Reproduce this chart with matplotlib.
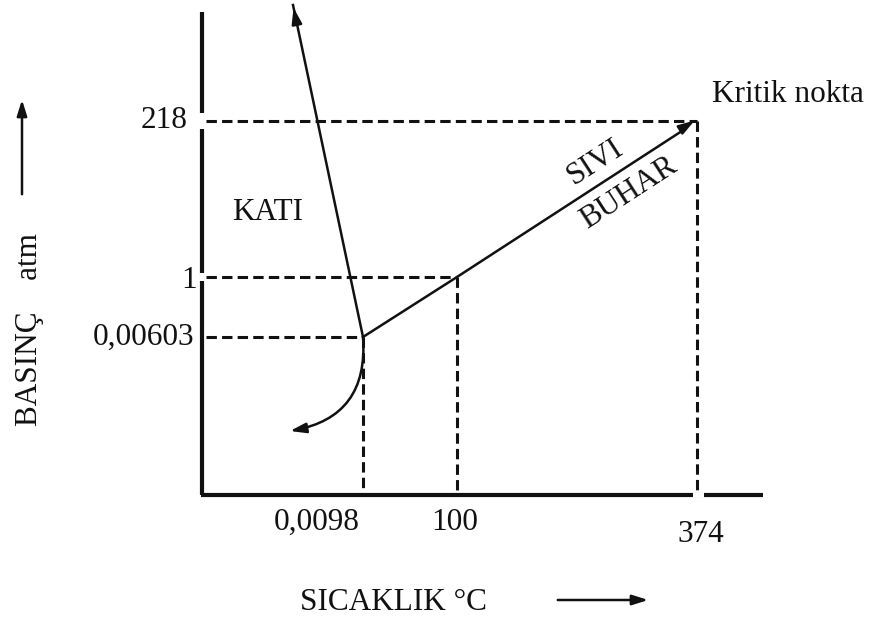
import matplotlib.pyplot as plt

plt.rcParams['font.family'] = ['Liberation Serif', 'DejaVu Serif']

# water phase diagram (schematic, not to scale)
temp_labels = ['0,0098', '100', '374']
press_labels = ['0,00603', '1', '218']
# where each value sits on the sketch
temp_pos = [161, 255, 495]
press_pos = [158, 218, 374]

# solid/liquid line: straight upper branch, curved lower branch
melt_up_x = [161, 91]
melt_up_y = [158, 490]
melt_low_tip = (88, 64)

region_labels = ['KATI', 'SIVI', 'BUHAR']

fig = plt.figure(figsize=(8.73, 6.18), dpi=100)
ax = fig.add_axes([0, 0, 1, 1])
ax.set_xlim(-202, 671)
ax.set_ylim(-123, 495)
ax.axis('off')

k = '#111111'
fs = 22.5
head = '-|>,head_length=0.95,head_width=0.3'

# axes lines, with small gaps where dashed guides meet them
ax.plot([0, 0], [0, 366], color=k, lw=3, solid_capstyle='butt')
ax.plot([0, 0], [382, 483], color=k, lw=3, solid_capstyle='butt')
ax.plot([-1.5, 561], [0, 0], color=k, lw=3, solid_capstyle='butt')
ax.plot([491, 502], [0, 0], color='white', lw=4, solid_capstyle='butt')
ax.plot([0, 0], [214, 222], color='white', lw=4, solid_capstyle='butt')

dash = dict(color=k, lw=2.2, linestyle=(0, (3.4, 1.7)))
for tx, py in zip(temp_pos, press_pos):
    ax.plot([4, tx], [py, py], **dash)
    ax.plot([tx, tx], [py, 0], **dash)

# liquid/vapour line ending at the critical point
ax.plot(temp_pos[:2] + [temp_pos[2] - 12], press_pos[:2] + [press_pos[2] - 8],
        color=k, lw=1.8)
ax.annotate('', xy=(temp_pos[2], press_pos[2] + 2), xytext=(temp_pos[2] - 14, press_pos[2] - 7),
            arrowprops=dict(arrowstyle=head, color=k, lw=1.8))

# solid/liquid line
ax.plot(melt_up_x, melt_up_y, color=k, lw=1.8)
ax.annotate('', xy=(melt_up_x[1], melt_up_y[1]), xytext=(melt_up_x[1] + 3, melt_up_y[1] - 15),
            arrowprops=dict(arrowstyle=head, color=k, lw=1.8))
ax.annotate('', xy=melt_low_tip, xytext=(temp_pos[0], press_pos[0]),
            arrowprops=dict(arrowstyle=head, color=k, lw=1.8,
                            connectionstyle='arc3,rad=-0.45', shrinkA=0, shrinkB=0))

# tick labels
ax.text(-14, press_pos[2], press_labels[2], ha='right', va='center', fontsize=fs, color=k)
ax.text(-5, press_pos[1] - 3, press_labels[1], ha='right', va='center', fontsize=fs, color=k)
ax.text(-8, press_pos[0], press_labels[0], ha='right', va='center', fontsize=fs, color=k)
ax.text(temp_pos[0] - 46, -27, temp_labels[0], ha='center', va='center', fontsize=fs, color=k)
ax.text(temp_pos[1] - 2, -28, temp_labels[1], ha='center', va='center', fontsize=fs, color=k)
ax.text(temp_pos[2] + 4, -39, temp_labels[2], ha='center', va='center', fontsize=fs, color=k)

# region and point labels
ax.text(66, 282, region_labels[0], ha='center', va='center', fontsize=fs, color=k)
ax.text(393, 333, region_labels[1], ha='center', va='center', fontsize=fs, color=k, rotation=33)
ax.text(427, 302, region_labels[2], ha='center', va='center', fontsize=fs, color=k, rotation=33)
ax.text(510, 400, 'Kritik nokta', ha='left', va='center', fontsize=fs, color=k)

# axis titles with direction arrows
ax.text(98, -108, 'SICAKLIK °C', ha='left', va='center', fontsize=fs, color=k)
ax.annotate('', xy=(449, -105), xytext=(353, -105),
            arrowprops=dict(arrowstyle=head, color=k, lw=1.8))
ax.text(-172, 165, 'BASINÇ    atm', ha='center', va='center', fontsize=fs, color=k, rotation=90)
ax.annotate('', xy=(-180, 398), xytext=(-180, 298),
            arrowprops=dict(arrowstyle=head, color=k, lw=1.8))

fig.savefig('out.png', dpi=100)
